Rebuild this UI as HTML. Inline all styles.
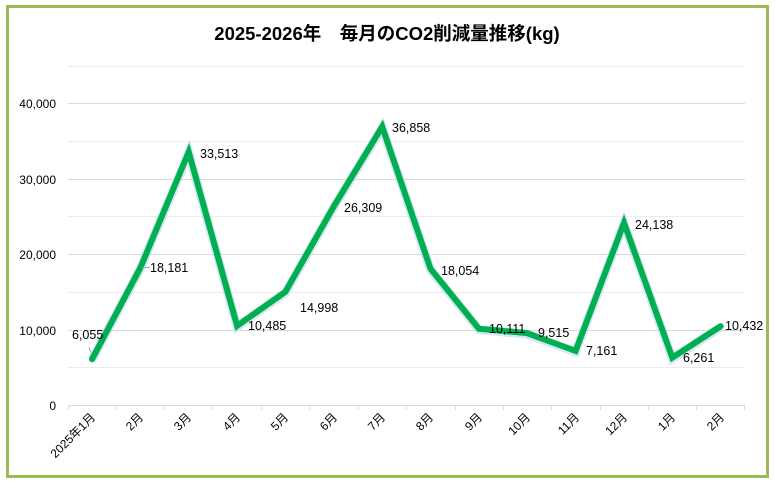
<!DOCTYPE html>
<html><head><meta charset="utf-8"><style>
html,body{margin:0;padding:0;background:#fff;}
svg text{font-family:"Liberation Sans","Noto Sans CJK JP",sans-serif;}
</style></head><body>
<svg width="775" height="480" viewBox="0 0 775 480" xmlns="http://www.w3.org/2000/svg">
<rect x="0" y="0" width="775" height="480" fill="#fff"/>
<rect x="7.5" y="6.5" width="760" height="470" fill="#fff" stroke="#9bbb59" stroke-width="3"/>
<text x="387" y="40" text-anchor="middle" font-size="18.5" font-weight="bold" fill="#000">2025-2026年　毎月のCO2削減量推移(kg)</text>
<g stroke="#ececec" stroke-width="1">
<line x1="68" x2="745" y1="66.5" y2="66.5"/>
<line x1="68" x2="745" y1="141.5" y2="141.5"/>
<line x1="68" x2="745" y1="216.5" y2="216.5"/>
<line x1="68" x2="745" y1="292.5" y2="292.5"/>
<line x1="68" x2="745" y1="367.5" y2="367.5"/>
</g>
<g stroke="#d9d9d9" stroke-width="1">
<line x1="68" x2="745" y1="103.5" y2="103.5"/>
<line x1="68" x2="745" y1="179.5" y2="179.5"/>
<line x1="68" x2="745" y1="254.5" y2="254.5"/>
<line x1="68" x2="745" y1="330.5" y2="330.5"/>
<line x1="68" x2="745" y1="405.5" y2="405.5"/>
</g>
<g stroke="#d9d9d9" stroke-width="1">
<line x1="68.5" x2="68.5" y1="405" y2="410"/><line x1="116.5" x2="116.5" y1="405" y2="410"/><line x1="164.5" x2="164.5" y1="405" y2="410"/><line x1="212.5" x2="212.5" y1="405" y2="410"/><line x1="261.5" x2="261.5" y1="405" y2="410"/><line x1="309.5" x2="309.5" y1="405" y2="410"/><line x1="358.5" x2="358.5" y1="405" y2="410"/><line x1="406.5" x2="406.5" y1="405" y2="410"/><line x1="455.5" x2="455.5" y1="405" y2="410"/><line x1="503.5" x2="503.5" y1="405" y2="410"/><line x1="551.5" x2="551.5" y1="405" y2="410"/><line x1="600.5" x2="600.5" y1="405" y2="410"/><line x1="648.5" x2="648.5" y1="405" y2="410"/><line x1="696.5" x2="696.5" y1="405" y2="410"/><line x1="744.5" x2="744.5" y1="405" y2="410"/>
</g>
<g font-size="12" fill="#000" text-anchor="end">
<text x="56" y="108">40,000</text>
<text x="56" y="184">30,000</text>
<text x="56" y="259">20,000</text>
<text x="56" y="335">10,000</text>
<text x="56" y="410">0</text>
</g>
<g font-size="12" fill="#000" text-anchor="end">
<text transform="translate(96,418) rotate(-45)">2025年1月</text>
<text transform="translate(144,418) rotate(-45)">2月</text>
<text transform="translate(192,418) rotate(-45)">3月</text>
<text transform="translate(241,418) rotate(-45)">4月</text>
<text transform="translate(289,418) rotate(-45)">5月</text>
<text transform="translate(338,418) rotate(-45)">6月</text>
<text transform="translate(386,418) rotate(-45)">7月</text>
<text transform="translate(434,418) rotate(-45)">8月</text>
<text transform="translate(483,418) rotate(-45)">9月</text>
<text transform="translate(531,418) rotate(-45)">10月</text>
<text transform="translate(580,418) rotate(-45)">11月</text>
<text transform="translate(628,418) rotate(-45)">12月</text>
<text transform="translate(676,418) rotate(-45)">1月</text>
<text transform="translate(725,418) rotate(-45)">2月</text>
</g>
<polyline fill="none" stroke="#bcd7ee" stroke-width="9" stroke-linejoin="miter" opacity="0.6" points="92,360 140.4,268.7 188.7,153 237.1,326.8 285.4,292.8 333.8,207.4 382.2,127.7 430.5,269.7 478.9,329.7 527.2,334.2 575.6,351.9 624,223.8 672.3,358.7 720.7,327.2"/>
<polyline fill="none" stroke="#00b050" stroke-width="6" stroke-linejoin="miter" stroke-linecap="round" points="92,359.3 140.4,267.7 188.7,152 237.1,325.8 285.4,291.8 333.8,206.4 382.2,126.7 430.5,268.7 478.9,328.7 527.2,333.2 575.6,350.9 624,222.8 672.3,357.7 720.7,326.2"/>
<line x1="142" y1="267.5" x2="150" y2="267.5" stroke="#a6a6a6" stroke-width="1"/>
<line x1="89" y1="347" x2="91" y2="353" stroke="#a6a6a6" stroke-width="1"/>
<g font-size="12.5" fill="#000">
<text x="72" y="339">6,055</text>
<text x="150" y="272">18,181</text>
<text x="200" y="158">33,513</text>
<text x="248" y="330">10,485</text>
<text x="300" y="312">14,998</text>
<text x="344" y="212">26,309</text>
<text x="392" y="132">36,858</text>
<text x="441" y="275">18,054</text>
<text x="489" y="333">10,111</text>
<text x="538" y="337">9,515</text>
<text x="586" y="355">7,161</text>
<text x="635" y="229">24,138</text>
<text x="683" y="362">6,261</text>
<text x="725" y="330">10,432</text>
</g>
</svg>
</body></html>
